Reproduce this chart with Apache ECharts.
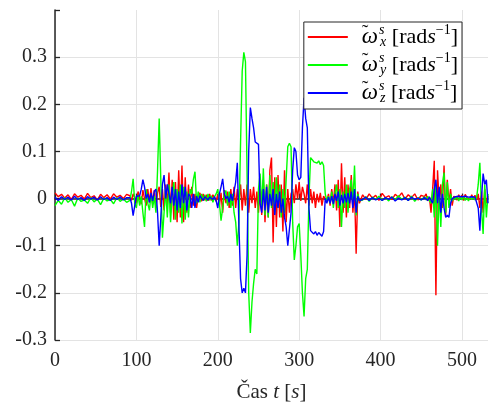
<!DOCTYPE html>
<html>
<head>
<meta charset="utf-8">
<script src="https://cdn.jsdelivr.net/npm/echarts@6/dist/echarts.min.js"></script>
<style>html,body{margin:0;padding:0;background:#fff}#c{width:489px;height:405px}</style>
</head>
<body>
<div id="c"></div>
<script>
// ---- data ----
const seriesNames = ['wx', 'wy', 'wz'];
const xTicks = [0, 100, 200, 300, 400, 500];
const yTicks = [-0.3, -0.2, -0.1, 0, 0.1, 0.2, 0.3];

const timeA = [0,4,8,12,16,20,24,28,32,36,40,44,48,52,56,60,64,68,72,76,80,84,88];
const redA = [0.012,0.004,0.009,0.001,0.008,-0.002,0.010,0.003,0.007,-0.001,0.011,0.002,0.006,-0.003,0.009,0.002,0.008,-0.001,0.010,0.003,0.007,0.000,0.009];
const greenA = [-0.015,-0.004,-0.012,0.002,-0.008,-0.002,-0.016,0.001,-0.006,-0.003,-0.010,0.002,-0.007,-0.001,-0.013,0.001,-0.005,-0.002,-0.011,0.002,-0.006,-0.001,-0.008];
const blueA = [0.003,-0.004,0.004,-0.002,0.003,-0.003,0.005,-0.002,0.002,-0.004,0.004,-0.001,0.003,-0.003,0.004,-0.002,0.002,-0.004,0.003,-0.002,0.004,-0.003,0.002];

const timeB = [92,94,96,98,100,102,104,106,108,110,
  112,114,116,118,120,122,124,126,128,130,
  132,134,136,138,140,142,144,146,148,150,
  152,154,156,158,160,162,164,166,168,170,
  172,174,176,178,180,182,184,186,188,190,
  192,194,196,198,200,202,204,206,208,210,
  212,214,216,218,220,222,224,226,228,230,
  232,234,236,238,240,242,244,246,248,250,
  252,254,256,258,260,262,264,266,268,270,
  272,274,276,278,280,282,284,286,288,290,
  292,294,296,298,300,302,304,306,308,310,
  312,314,316,318,320,322,324,326,328,330,
  332,334];
const redB = [0.006,-0.004,0.010,0.002,-0.010,0.015,0.003,-0.012,0.018,0.000,
  -0.015,0.020,-0.008,0.022,-0.012,0.018,-0.020,0.012,0.025,-0.018,
  0.020,-0.025,0.030,-0.015,0.055,-0.030,0.040,-0.045,0.035,-0.050,
  0.060,-0.040,0.070,-0.050,0.045,-0.030,0.030,-0.020,0.025,-0.015,
  0.010,-0.020,0.005,0.012,-0.006,0.010,-0.004,0.008,-0.005,0.010,
  -0.004,0.008,0.002,-0.006,0.010,-0.015,0.012,-0.030,0.018,-0.010,
  0.015,-0.020,0.020,-0.015,0.025,-0.020,0.020,-0.010,0.030,-0.025,
  0.020,-0.015,0.030,-0.030,0.020,-0.010,0.025,-0.020,0.015,-0.030,
  0.020,-0.035,0.040,-0.050,0.030,-0.040,0.060,0.087,-0.093,0.045,
  -0.060,0.050,-0.040,0.030,-0.070,0.060,-0.050,0.020,-0.030,0.010,
  0.020,-0.010,0.030,0.000,0.035,-0.005,0.025,0.010,-0.010,0.030,
  -0.015,0.020,-0.010,0.015,-0.020,0.010,-0.008,0.012,-0.015,0.005,
  0.008,-0.006];
const greenB = [-0.004,0.015,0.042,-0.010,-0.020,0.008,-0.015,0.005,-0.030,-0.060,
  0.020,-0.010,-0.025,0.010,-0.020,0.005,-0.030,0.060,0.170,0.040,
  -0.083,-0.030,0.020,-0.040,0.030,-0.050,0.010,0.035,-0.045,0.020,
  -0.030,0.030,-0.053,0.025,-0.045,0.015,-0.040,0.020,0.010,0.040,
  0.057,-0.010,0.015,-0.008,0.010,-0.005,0.008,-0.006,0.010,-0.004,
  0.006,-0.008,0.004,0.010,0.020,-0.010,-0.047,-0.020,0.010,0.017,
  -0.015,0.015,-0.020,0.010,-0.030,-0.050,-0.100,-0.050,0.120,0.270,
  0.310,0.290,0.050,-0.200,-0.285,-0.220,-0.180,-0.150,-0.160,0.020,
  0.053,-0.020,0.064,-0.036,0.030,-0.040,0.050,-0.020,0.035,-0.030,
  0.045,-0.020,0.030,-0.040,0.020,-0.030,0.040,0.110,0.117,0.110,
  -0.050,-0.130,-0.100,-0.060,-0.053,-0.120,-0.200,-0.250,-0.170,-0.150,
  0.000,0.087,0.085,0.078,0.082,0.075,0.080,0.072,0.078,0.070,
  0.010,-0.005];
const blueB = [0.002,-0.010,-0.036,-0.015,0.005,0.002,0.006,0.020,0.040,0.025,
  0.000,0.010,-0.008,0.012,-0.005,0.015,0.020,-0.030,-0.100,-0.040,
  0.030,0.050,0.000,0.030,0.010,-0.010,0.025,-0.015,0.020,-0.025,
  0.015,-0.020,0.030,-0.010,0.025,-0.025,0.010,0.005,-0.020,0.010,
  -0.020,0.005,-0.008,0.006,0.002,-0.004,0.004,0.000,-0.003,0.003,
  0.002,-0.002,0.004,-0.005,-0.020,0.010,0.025,0.042,0.010,0.000,
  0.005,-0.008,0.010,-0.005,0.015,0.035,0.076,-0.060,-0.170,-0.200,
  -0.190,-0.200,-0.120,0.100,0.193,0.170,0.150,0.120,0.120,0.115,
  -0.010,-0.030,0.020,-0.025,0.025,-0.030,0.010,-0.015,0.020,-0.035,
  0.010,-0.020,0.015,-0.030,0.000,-0.040,-0.060,-0.100,-0.096,-0.030,
  0.060,0.108,0.100,0.050,0.040,0.045,0.150,0.214,0.170,0.150,
  -0.020,-0.068,-0.072,-0.075,-0.070,-0.078,-0.072,-0.075,-0.080,-0.070,
  0.000,-0.010];

const timeC1 = [336,338,340,342,344,346,348,350,352,354,356,358,360,362,364,366,368,370,372,374];
const redC1 = [0.010,-0.015,0.020,-0.010,0.030,-0.025,0.040,-0.060,0.075,-0.030,0.045,-0.040,0.030,-0.020,0.050,-0.030,0.020,-0.117,0.015,-0.010];
const greenC1 = [0.005,-0.010,0.015,-0.020,0.010,0.030,-0.020,0.020,-0.060,0.015,-0.020,0.030,-0.030,0.020,0.040,-0.010,0.070,-0.036,0.010,-0.005];
const blueC1 = [0.003,-0.010,0.005,-0.012,0.010,-0.005,0.015,-0.015,0.008,-0.010,0.010,-0.008,0.012,-0.010,0.015,-0.020,0.020,-0.030,0.005,-0.004];

const timeC2 = [378,382,386,390,394,398,402,406,410,414,418,422,426,430,434,438,442,446,450,454];
const redC2 = [0.008,-0.002,0.010,0.001,0.007,-0.004,0.011,0.002,0.006,-0.002,0.009,0.003,0.012,-0.001,0.008,0.002,0.010,-0.003,0.007,0.004];
const greenC2 = [-0.003,0.004,-0.006,0.003,-0.002,0.005,-0.004,0.002,-0.005,0.004,-0.003,0.006,-0.002,0.003,-0.004,0.005,-0.006,0.002,-0.003,0.004];
const blueC2 = [-0.002,0.003,-0.004,0.002,-0.003,0.001,-0.004,0.002,-0.002,0.003,-0.005,0.001,-0.003,0.002,-0.004,0.003,-0.002,0.001,-0.003,0.002];

const timeD = [456,458,460,462,464,466,468,470,472,474,476,478,480,482,484,486,488,490,
  492,494,496,498,500,502,504,506,508,510,512,514,516,518,
  520,522,524,526,528,530,532];
const redD = [0.010,-0.005,0.004,-0.030,0.020,0.080,-0.205,0.060,-0.010,0.030,-0.020,0.070,-0.035,0.040,-0.010,0.020,-0.015,0.005,
  0.006,-0.003,0.008,0.001,0.007,-0.004,0.009,0.002,0.006,-0.002,0.008,0.000,0.007,-0.003,
  0.010,-0.020,0.015,-0.030,0.020,-0.010,0.005];
const greenD = [-0.003,0.005,-0.004,-0.010,0.020,-0.040,0.030,-0.100,0.020,-0.060,0.030,0.055,-0.030,0.035,-0.020,0.010,-0.005,0.003,
  -0.002,0.004,-0.005,0.003,-0.003,0.005,-0.004,0.002,-0.005,0.003,-0.002,0.004,-0.003,0.002,
  0.030,0.076,-0.020,-0.075,0.030,-0.040,0.010];
const blueD = [0.000,-0.004,0.003,0.005,-0.010,0.020,0.040,-0.010,0.025,-0.030,0.010,-0.020,-0.040,-0.035,-0.040,-0.010,0.000,-0.002,
  0.004,0.001,0.005,0.002,0.004,0.000,0.005,0.002,0.003,0.001,0.004,0.001,0.003,0.000,
  -0.020,-0.068,0.000,0.053,0.030,0.040,-0.010];

const time = [].concat(timeA, timeB, timeC1, timeC2, timeD);
const wx = [].concat(redA, redB, redC1, redC2, redD);
const wy = [].concat(greenA, greenB, greenC1, greenC2, greenD);
const wz = [].concat(blueA, blueB, blueC1, blueC2, blueD);

// ---- chart ----
const serif = "'Liberation Serif', 'DejaVu Serif', serif";
const dark = '#262626';
const pair = arr => time.map((t, i) => [t, arr[i]]);

const LH = 27;
const legendRich = {
  til: {fontFamily: serif, fontSize: 20, color: '#000', width: 0.01, lineHeight: LH, padding: [0, 0, 6, 9]},
  om: {fontFamily: serif, fontSize: 23, fontStyle: 'italic', color: '#000', lineHeight: LH},
  sup: {fontFamily: serif, fontSize: 14, fontStyle: 'italic', color: '#000', lineHeight: LH, padding: [0, 0, 14, 1], width: 0.01},
  sub: {fontFamily: serif, fontSize: 14, fontStyle: 'italic', color: '#000', lineHeight: LH, padding: [11, 0, 0, 1]},
  t: {fontFamily: serif, fontSize: 22, color: '#000', lineHeight: LH},
  ti: {fontFamily: serif, fontSize: 22, fontStyle: 'italic', color: '#000', lineHeight: LH},
  e: {fontFamily: serif, fontSize: 14, color: '#000', lineHeight: LH, padding: [0, 0, 14, 0]}
};
const subs = {wx: 'x', wy: 'y', wz: 'z'};

const chart = echarts.init(document.getElementById('c'), null, {renderer: 'canvas'});
chart.setOption({
  animation: false,
  backgroundColor: '#fff',
  grid: {left: 55, right: 1, top: 10, bottom: 65, containLabel: false, outerBoundsMode: 'none'},
  legend: {
    data: seriesNames,
    orient: 'vertical',
    right: 27,
    top: 22,
    padding: [1, 4, 2, 4],
    itemGap: 0,
    itemWidth: 40,
    itemHeight: 2,
    icon: 'rect',
    backgroundColor: '#fff',
    borderColor: dark,
    borderWidth: 1,
    borderRadius: 0,
    formatter: name => `{til|˜}{om|ω}{sup|s}{sub|${subs[name]}}{t| [rad}{ti|s}{e|−1}{t|]}`,
    textStyle: {rich: legendRich, lineHeight: LH}
  },
  xAxis: {
    type: 'value', min: 0, max: 532, interval: 100,
    name: '{n|Čas }{i|t}{n| [}{i|s}{n|]}',
    nameLocation: 'middle', nameGap: 42,
    nameTextStyle: {rich: {
      n: {fontFamily: serif, fontSize: 21, color: dark},
      i: {fontFamily: serif, fontSize: 21, fontStyle: 'italic', color: dark}
    }},
    axisLine: {lineStyle: {color: dark, width: 1.5}},
    axisTick: {inside: true, length: 5, lineStyle: {color: dark, width: 1.3}},
    axisLabel: {fontFamily: serif, fontSize: 20, color: dark, margin: 11, showMaxLabel: false,
      formatter: v => xTicks.includes(v) ? String(v) : ''},
    splitLine: {show: true, showMaxLine: false, lineStyle: {color: '#e3e3e3', width: 1}}
  },
  yAxis: {
    type: 'value', min: -0.3, max: 0.4, interval: 0.1,
    axisLine: {show: true, lineStyle: {color: dark, width: 1.5}},
    axisTick: {show: true, inside: true, length: 5, lineStyle: {color: dark, width: 1.3}},
    axisLabel: {fontFamily: serif, fontSize: 20, color: dark, margin: 8,
      formatter: v => {
        const r = Math.round(v * 10) / 10;
        if (!yTicks.some(y => Math.abs(y - r) < 1e-9) || Math.abs(v - r) > 1e-6) return '';
        return r === 0 ? '0' : (r < 0 ? '-' : '') + Math.abs(r).toFixed(1);
      }},
    splitLine: {show: true, showMaxLine: false, lineStyle: {color: '#e3e3e3', width: 1}}
  },
  series: [
    {name: 'wx', type: 'line', data: pair(wx), showSymbol: false, lineStyle: {color: '#ff0000', width: 1.4}, itemStyle: {color: '#ff0000'}},
    {name: 'wy', type: 'line', data: pair(wy), showSymbol: false, lineStyle: {color: '#00ff00', width: 1.4}, itemStyle: {color: '#00ff00'}},
    {name: 'wz', type: 'line', data: pair(wz), showSymbol: false, lineStyle: {color: '#0000ff', width: 1.4}, itemStyle: {color: '#0000ff'}}
  ]
});
</script>
</body>
</html>
